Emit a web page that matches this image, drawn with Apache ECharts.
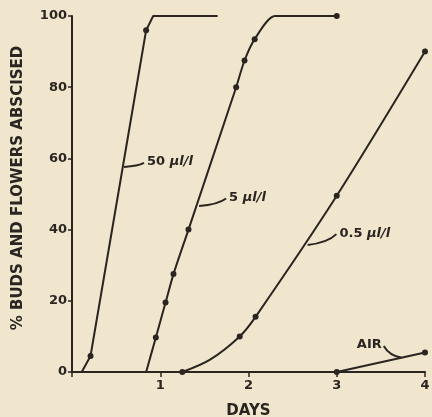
<!DOCTYPE html>
<html>
<head>
<meta charset="utf-8">
<script src="https://cdn.jsdelivr.net/npm/echarts@6/dist/echarts.min.js"></script>
<style>
html,body{margin:0;padding:0;background:#efe6cd;}
#c{width:432px;height:417px;}
</style>
</head>
<body>
<div id="c"></div>
<script>
// Data: [day, % abscised, hasMarker]
const s50 = [[0.11,0,0],[0.21,4.5,1],[0.84,96,1],[0.92,100,0],[1.65,100,0]];
const s5 = [[0.84,0,0],[0.95,9.7,1],[1.06,19.5,1],[1.15,27.5,1],[1.32,40,1],[1.86,80,1],[1.955,87.5,1],[2.07,93.5,1],[2.3,100,0],[3.0,100,1]];
const s05 = [[1.25,0,1],[1.56,3.4,0],[1.9,10,1],[2.08,15.5,1],[3.0,49.5,1],[4.0,90,1],[4.08,94,0]];
const sAir = [[3.0,0,1],[4.0,5.5,1]];
const xTicks = [0,1,2,3,4];
const yTicks = [0,20,40,60,80,100];
const xName = 'DAYS';
const yName = '% BUDS AND FLOWERS ABSCISED';
// annotation: label text, point on curve, label anchor (data coords)
const notes = [
  {num:'50 ', unit:'µl/l', at:[0.59,57.6], label:[0.85,59], align:'left'},
  {num:'5 ', unit:'µl/l', at:[1.44,46.6], label:[1.78,49], align:'left'},
  {num:'0.5 ', unit:'µl/l', at:[2.67,35.7], label:[3.03,39], align:'left'},
  {num:'AIR', unit:'', at:[3.735,4.0], label:[3.51,7.6], align:'right'}
];

const ink = '#2b2521';
const chart = echarts.init(document.getElementById('c'), null, {renderer:'canvas'});
function mk(arr){
  return arr.map(p => ({value:[p[0],p[1]], symbol: p[2] ? 'circle' : 'none'}));
}
function line(name, arr, smooth){
  return {
    name, type:'line', data: mk(arr), smooth: smooth,
    symbolSize: 6, clip: false, showAllSymbol:true,
    lineStyle:{color:ink, width:2},
    itemStyle:{color:ink},
    animation:false
  };
}
chart.setOption({
  backgroundColor:'#efe6cd',
  animation:false,
  grid:{left:72, right:7, top:16, bottom:45, containLabel:false, outerBoundsMode:'none'},
  xAxis:{
    type:'value', min:xTicks[0], max:xTicks[xTicks.length-1], interval:1,
    name:xName, nameLocation:'middle', nameGap:32,
    nameTextStyle:{fontFamily:'DejaVu Sans', fontWeight:'bold', fontSize:15, color:ink},
    axisLine:{lineStyle:{color:ink, width:2}},
    axisTick:{length:5, lineStyle:{color:ink, width:1.5}},
    axisLabel:{fontFamily:'DejaVu Sans', fontWeight:'bold', fontSize:13, color:ink, margin:7,
      formatter: v => v === 0 ? '' : String(v)},
    splitLine:{show:false}
  },
  yAxis:{
    type:'value', min:yTicks[0], max:yTicks[yTicks.length-1], interval:20,
    name:yName, nameLocation:'middle', nameGap:46,
    nameTextStyle:{fontFamily:'DejaVu Sans', fontWeight:'bold', fontSize:15, color:ink, padding:[0,0,0,12]},
    axisLine:{show:true, lineStyle:{color:ink, width:2}},
    axisTick:{show:true, length:4, lineStyle:{color:ink, width:1.5}},
    axisLabel:{fontFamily:'DejaVu Sans', fontWeight:'bold', fontSize:13, color:ink, margin:5},
    splitLine:{show:false}
  },
  series:[
    line('50 µl/l', s50, false),
    line('5 µl/l', s5, 0.25),
    line('0.5 µl/l', s05, 0.3),
    line('AIR', sAir, false)
  ]
});

const g = [];
notes.forEach(n => {
  const a = chart.convertToPixel({gridIndex:0}, n.at);
  const l = chart.convertToPixel({gridIndex:0}, n.label);
  const ex = n.align === 'left' ? l[0]-3 : l[0]+2;
  const ey = l[1]+1;
  g.push({
    type:'bezierCurve',
    shape:{x1:a[0], y1:a[1], cpx1:(a[0]*0.3+ex*0.7), cpy1:a[1]-(a[1]-ey)*0.2, x2:ex, y2:ey},
    style:{stroke:ink, lineWidth:2, fill:null}
  });
  g.push({
    type:'text', x:l[0], y:l[1],
    style:{
      text: n.unit ? '{n|'+n.num+'}{u|'+n.unit+'}' : '{n|'+n.num+'}',
      align:n.align, verticalAlign:'middle',
      rich:{
        n:{fontFamily:'DejaVu Sans', fontWeight:'bold', fontSize:13, fill:ink},
        u:{fontFamily:'DejaVu Sans', fontWeight:'bold', fontStyle:'italic', fontSize:13, fill:ink}
      }
    }
  });
});
chart.setOption({graphic:g});
</script>
</body>
</html>
